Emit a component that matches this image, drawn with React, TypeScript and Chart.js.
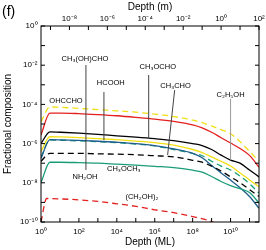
import { useEffect, useRef } from "react";
import { Chart, registerables } from "chart.js";

Chart.register(...registerables);

// Depth grid (monolayers) shared by most species
const depthML = [1, 2.95, 1e1, 1e2, 1e3, 1e4, 1e5, 1e6, 1e7, 1e8, 3.16e8, 1e9, 3.16e9, 1e10, 3.16e10, 1e11, 3.16e11];
// Depth grid for (CH2OH)2
const depthMLGlycol = [1, 2, 1e1, 1e2, 1e3, 1e4, 1e5, 1e6, 1e7, 1e8, 1e9, 3.16e9];

// Fractional compositions
const redSolid = [2.75e-6, 3.63e-5, 3.63e-5, 3.39e-5, 3.02e-5, 2.63e-5, 2.19e-5, 1.78e-5, 1.35e-5, 8.9e-6, 6.3e-6, 3.8e-6, 2.0e-6, 1.07e-6, 5.6e-7, 2.5e-7, 6.3e-8];
const yellowDashed = [1.32e-5, 7.4e-5, 7.1e-5, 6.3e-5, 5.4e-5, 4.7e-5, 4.0e-5, 3.2e-5, 2.4e-5, 1.58e-5, 1.17e-5, 7.9e-6, 5.2e-6, 3.2e-6, 1.26e-6, 4.0e-7, 1.26e-7];
const blackSolid = [1.0e-6, 4.0e-6, 3.8e-6, 3.4e-6, 2.95e-6, 2.5e-6, 2.14e-6, 1.78e-6, 1.41e-6, 1.0e-6, 7.9e-7, 5.0e-7, 2.6e-7, 1.45e-7, 1.0e-7, 4.5e-8, 2.0e-8];
const yellowSolid = [4.0e-7, 2.24e-6, 2.19e-6, 2.0e-6, 1.78e-6, 1.58e-6, 1.35e-6, 1.12e-6, 8.3e-7, 5.0e-7, 3.5e-7, 2.1e-7, 1.26e-7, 7.2e-8, 3.2e-8, 1.4e-8, 6.3e-9];
const blueSolid = [1.78e-7, 1.58e-6, 1.55e-6, 1.45e-6, 1.32e-6, 1.17e-6, 1.0e-6, 7.9e-7, 5.4e-7, 3.2e-7, 1.9e-7, 7.6e-8, 3.2e-8, 1.38e-8, 5.6e-9, 2.0e-9, 5.0e-10];
const tealDashed = [2.0e-7, 1.51e-6, 1.48e-6, 1.38e-6, 1.26e-6, 1.12e-6, 9.5e-7, 7.6e-7, 5.0e-7, 3.2e-7, 2.4e-7, 1.26e-7, 7.1e-8, 4.5e-8, 2.2e-8, 8.9e-9, 3.0e-9];
const blackDashed = [1.26e-7, 3.2e-7, 3.2e-7, 3.2e-7, 3.0e-7, 2.9e-7, 2.7e-7, 2.4e-7, 2.1e-7, 1.41e-7, 1.12e-7, 7.1e-8, 4.0e-8, 2.0e-8, 1.0e-8, 4.5e-9, 2.0e-9];
const tealSolid = [1.0e-8, 1.12e-7, 1.12e-7, 1.07e-7, 1.0e-7, 8.9e-8, 7.9e-8, 6.9e-8, 6.0e-8, 4.4e-8, 3.5e-8, 2.1e-8, 1.17e-8, 7.2e-9, 5.0e-9, 3.2e-9, 9.3e-10];
const redDashed = [1.0e-10, 1.58e-9, 1.51e-9, 1.35e-9, 1.12e-9, 8.5e-10, 6.3e-10, 4.2e-10, 3.0e-10, 1.9e-10, 1.05e-10, 6.3e-11];

// Axis tick exponents
const xExponentsML = [0, 1, 2, 3, 4, 5, 6, 7, 8, 9, 10, 11];
const xExponentsM = [-9, -8, -7, -6, -5, -4, -3, -2, -1, 0, 1, 2];
const yExponents = [-10, -9, -8, -7, -6, -5, -4, -3, -2, -1, 0];

// Species labels
const speciesLabels = ["CH₃(OH)CHO", "HCOOH", "CH₃OCHO", "CH₃CHO", "C₂H₅OH", "OHCCHO", "NH₂OH", "CH₃OCH₃", "(CH₂OH)₂"];

// Label placement (log10 depth ML, log10 fraction) and pointer lines
const labelPlacement: { tx: number; ty: number; line?: number[]; gray?: boolean }[] = [
  { tx: 2.32, ty: -1.68, line: [2.37, -1.99, 2.37, -5.87] },
  { tx: 3.68, ty: -2.91, line: [3.32, -3.37, 3.32, -5.82] },
  { tx: 6.16, ty: -2.09, line: [5.68, -2.5, 5.68, -5.71] },
  { tx: 7.1, ty: -3.06, line: [7.05, -3.27, 6.68, -6.58] },
  { tx: 10.0, ty: -3.52, line: [10.0, -3.72, 10.0, -6.84], gray: true },
  { tx: 1.32, ty: -3.83 },
  { tx: 2.32, ty: -7.7, line: [2.37, -7.35, 2.37, -5.87] },
  { tx: 4.37, ty: -7.3 },
  { tx: 5.32, ty: -8.72 },
];

const FONT = "'Liberation Sans', Arial, Helvetica, sans-serif";
const SUP: Record<string, string> = { "0": "⁰", "1": "¹", "2": "²", "3": "³", "4": "⁴", "5": "⁵", "6": "⁶", "7": "⁷", "8": "⁸", "9": "⁹", "-": "⁻" };
const powLabel = (v: number) => {
  const e = Math.round(Math.log10(v));
  if (e % 2 !== 0) return "";
  return "10" + String(e).split("").map((c) => SUP[c] || c).join("");
};

const pts = (xs: number[], ys: number[]) => xs.map((x, i) => ({ x, y: ys[i] }));

const decorPlugin = {
  id: "decor",
  afterDatasetsDraw(chart: any) {
    const { ctx } = chart;
    const sx = chart.scales.x;
    const sy = chart.scales.y;
    const px = (l: number) => sx.getPixelForValue(Math.pow(10, l));
    const py = (l: number) => sy.getPixelForValue(Math.pow(10, l));
    ctx.save();
    labelPlacement.forEach((p, i) => {
      if (p.line) {
        ctx.beginPath();
        ctx.strokeStyle = p.gray ? "#9a9a9a" : "#444";
        ctx.lineWidth = 1;
        ctx.moveTo(px(p.line[0]), py(p.line[1]));
        ctx.lineTo(px(p.line[2]), py(p.line[3]));
        ctx.stroke();
      }
      ctx.fillStyle = "#000";
      ctx.font = `7.5px ${FONT}`;
      ctx.textAlign = "center";
      ctx.textBaseline = "middle";
      ctx.fillText(speciesLabels[i], px(p.tx), py(p.ty));
    });
    ctx.restore();
  },
  afterDraw(chart: any) {
    const { ctx, chartArea } = chart;
    const { left, right, top, bottom } = chartArea;
    const sx = chart.scales.x;
    const sx2 = chart.scales.x2;
    const sy = chart.scales.y;
    ctx.save();
    ctx.strokeStyle = "#000";
    ctx.lineWidth = 1;
    ctx.strokeRect(left, top, right - left, bottom - top);
    const tl = 4;
    ctx.beginPath();
    xExponentsML.forEach((e) => {
      const x = sx.getPixelForValue(Math.pow(10, e));
      ctx.moveTo(x, bottom);
      ctx.lineTo(x, bottom - tl);
    });
    xExponentsM.forEach((e) => {
      const x = sx2.getPixelForValue(Math.pow(10, e));
      ctx.moveTo(x, top);
      ctx.lineTo(x, top + tl);
    });
    yExponents.forEach((e) => {
      const y = sy.getPixelForValue(Math.pow(10, e));
      ctx.moveTo(left, y);
      ctx.lineTo(left + tl, y);
      ctx.moveTo(right, y);
      ctx.lineTo(right - tl, y);
    });
    ctx.stroke();
    ctx.fillStyle = "#000";
    ctx.font = `14px ${FONT}`;
    ctx.textAlign = "left";
    ctx.textBaseline = "middle";
    ctx.fillText("(f)", 2, 12);
    ctx.restore();
  },
};

export default function App() {
  const ref = useRef<HTMLCanvasElement | null>(null);
  useEffect(() => {
    if (!ref.current) return;
    const line = (label: string, xs: number[], ys: number[], color: string, dashed: boolean) => ({
      label,
      data: pts(xs, ys),
      borderColor: color,
      backgroundColor: color,
      borderWidth: 1.3,
      borderDash: dashed ? [6, 4] : [],
      pointRadius: 0,
      cubicInterpolationMode: "monotone" as const,
      xAxisID: "x",
      yAxisID: "y",
    });
    const tickFont = { size: 8, family: FONT };
    const titleFont = { size: 10, family: FONT };
    const chart = new Chart(ref.current, {
      type: "line",
      data: {
        datasets: [
          line("(CH₂OH)₂", depthMLGlycol, redDashed, "#e3201f", true),
          line("CH₃OCH₃", depthML, tealSolid, "#1a9c78", false),
          line("CH₃CHO", depthML, blackDashed, "#000000", true),
          line("NH₂OH", depthML, blueSolid, "#1f5e8c", false),
          line("HCOOH", depthML, tealDashed, "#1a9c78", true),
          line("C₂H₅OH", depthML, yellowSolid, "#f2df12", false),
          line("CH₃OCHO", depthML, blackSolid, "#000000", false),
          line("OHCCHO", depthML, redSolid, "#e3201f", false),
          line("CH₃(OH)CHO", depthML, yellowDashed, "#f2df12", true),
        ],
      },
      options: {
        animation: false,
        responsive: false,
        devicePixelRatio: 1,
        layout: { padding: { left: 0, right: 7, top: 0, bottom: 0 } },
        plugins: { legend: { display: false }, tooltip: { enabled: false } },
        scales: {
          x: {
            type: "logarithmic",
            position: "bottom",
            min: 1,
            max: Math.pow(10, 11.5),
            grid: { display: false, drawTicks: false },
            border: { display: false },
            afterBuildTicks: (s: any) => {
              s.ticks = xExponentsML.map((e) => ({ value: Math.pow(10, e) }));
            },
            afterFit: (s: any) => {
              s.height = 28;
              s.paddingLeft = 0;
              s.paddingRight = 0;
            },
            ticks: {
              autoSkip: false,
              maxRotation: 0,
              padding: 5,
              color: "#000",
              font: tickFont,
              callback: (v: any) => powLabel(Number(v)),
            },
            title: { display: true, text: "Depth (ML)", color: "#000", font: titleFont, padding: { top: 0, bottom: 2 } },
          },
          x2: {
            type: "logarithmic",
            position: "top",
            min: Math.pow(10, -9.5),
            max: 100,
            grid: { display: false, drawTicks: false },
            border: { display: false },
            afterBuildTicks: (s: any) => {
              s.ticks = xExponentsM.map((e) => ({ value: Math.pow(10, e) }));
            },
            afterFit: (s: any) => {
              s.height = 26;
              s.paddingLeft = 0;
              s.paddingRight = 0;
            },
            ticks: {
              autoSkip: false,
              maxRotation: 0,
              padding: 2,
              color: "#000",
              font: tickFont,
              callback: (v: any) => powLabel(Number(v)),
            },
            title: { display: true, text: "Depth (m)", color: "#000", font: titleFont, padding: { top: 1, bottom: 0 } },
          },
          y: {
            type: "logarithmic",
            position: "left",
            min: 1e-10,
            max: 1,
            grid: { display: false, drawTicks: false },
            border: { display: false },
            afterBuildTicks: (s: any) => {
              s.ticks = yExponents.map((e) => ({ value: Math.pow(10, e) }));
            },
            afterFit: (s: any) => {
              s.width = 41;
              s.paddingTop = 0;
              s.paddingBottom = 0;
            },
            ticks: {
              autoSkip: false,
              padding: 3.5,
              color: "#000",
              font: tickFont,
              callback: (v: any) => powLabel(Number(v)),
            },
            title: { display: true, text: "Fractional composition", color: "#000", font: titleFont, padding: { top: 2, bottom: 0 } },
          },
        },
      },
      plugins: [decorPlugin],
    });
    return () => chart.destroy();
  }, []);
  return (
    <div style={{ position: "absolute", left: 0, top: 0, width: 266, height: 250, background: "#fff" }}>
      <canvas ref={ref} width={266} height={250} style={{ display: "block", width: 266, height: 250 }} />
    </div>
  );
}
